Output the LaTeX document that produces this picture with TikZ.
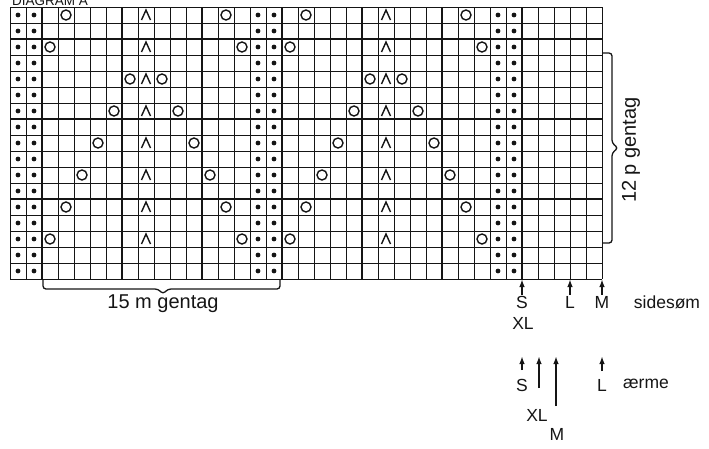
\documentclass[tikz,border=0pt]{standalone}
\usepackage{fontspec}
\setmainfont{Liberation Sans}
\usepackage{tikz}
\usetikzlibrary{arrows.meta}
\usepackage{xcolor}
\definecolor{ink}{HTML}{151515}

\begin{document}
\begin{tikzpicture}[x=1pt, y=-1pt,
    gridline/.style={ink, line width=0.9pt},
    gridthick/.style={ink, line width=2pt},
    yarnover/.style={ink, line width=1.4pt},
    decrease/.style={ink, line width=1.4pt},
    txt/.style={font=\fontsize{17.5}{19}\selectfont, text=ink, inner sep=1pt},
    reptxt/.style={font=\fontsize{20}{22}\selectfont, text=ink, inner sep=1pt},
    sizearrow/.style={-{Latex[length=8pt, width=5.5pt]}, ink, line width=1.6pt},
    gentag/.style={ink, line width=1.3pt, rounded corners=3pt}]
    \useasboundingbox (0,0) rectangle (709,448);

    % Title, cut off by the top edge
    \node[anchor=base west, font=\fontsize{13.5}{15}\selectfont, text=ink, inner sep=0pt] (title) at (12,5) {DIAGRAM A};

    % Grid, thick line every 5 stitches / rows
    \foreach \i in {0,...,37}
        \draw[gridline] ({10+16*\i},7) -- ({10+16*\i},279);
    \foreach \j in {0,...,17}
        \draw[gridline] (10,{7+16*\j}) -- (602,{7+16*\j});
    \foreach \i in {2,7,...,32}
        \draw[gridthick] ({10+16*\i},7) -- ({10+16*\i},279);
    \foreach \j in {2,7,12}
        \draw[gridthick] (10,{7+16*\j}) -- (602,{7+16*\j});

    % Purl columns
    \foreach \c in {1,2,16,17,31,32}
        \foreach \r in {1,...,17}
            \fill[ink] ({2+16*\c},{16*\r-1}) circle[radius=2.4pt];

    % Lace: decrease in the middle, yarn overs moving out
    \foreach \r/\d in {1/5,3/6,5/1,7/2,9/3,11/4,13/5,15/6}
        \foreach \c in {9,24} {
            \draw[decrease] ({2+16*\c-4.5},{16*\r+4}) -- ({2+16*\c},{16*\r-6}) -- ({2+16*\c+4.5},{16*\r+4});
            \draw[yarnover] ({2+16*(\c-\d)},{16*\r-1}) circle[radius=5pt];
            \draw[yarnover] ({2+16*(\c+\d)},{16*\r-1}) circle[radius=5pt];
        }

    % Repeats
    \draw[gentag] (43,279) -- (43,289) -- (158,289) -- (163,294) -- (168,289) -- (280,289) -- (280,279);
    \node[reptxt] (rep15) at (163,304) {15 m gentag};
    \draw[gentag] (602,53) -- (612,53) -- (612,143) -- (618,148) -- (612,153) -- (612,243) -- (602,243);
    \node[reptxt, rotate=90] (rep12) at (631,150) {12 p gentag};

    % Sizes, side seam
    \node[txt] (sideS) at (522,302) {S};
    \node[txt] (sideL) at (570,302) {L};
    \node[txt] (sideM) at (602,302) {M};
    \node[txt] (sideXL) at (523,323) {XL};
    \node[txt] (sidesom) at (667,302) {sidesøm};
    \coordinate (sideStip) at (522,279);
    \coordinate (sideLtip) at (570,279);
    \coordinate (sideMtip) at (602,279);
    \draw[sizearrow] (sideS.north) -- (sideStip);
    \draw[sizearrow] (sideL.north) -- (sideLtip);
    \draw[sizearrow] (sideM.north) -- (sideMtip);

    % Sizes, sleeve
    \node[txt] (armS) at (522,385) {S};
    \node[txt] (armL) at (602,385) {L};
    \node[txt] (armXL) at (537,415) {XL};
    \node[txt] (armM) at (557,434) {M};
    \node[txt] (arme) at (646,384) {ærme};
    \coordinate (armStail) at (522,370);
    \coordinate (armStip) at (522,356);
    \coordinate (armXLtail) at (539,388);
    \coordinate (armXLtip) at (539,356);
    \coordinate (armMtail) at (556,406);
    \coordinate (armMtip) at (556,356);
    \coordinate (armLtail) at (602,371);
    \coordinate (armLtip) at (602,356);
    \draw[sizearrow] (armStail) -- (armStip);
    \draw[sizearrow] (armXLtail) -- (armXLtip);
    \draw[sizearrow] (armMtail) -- (armMtip);
    \draw[sizearrow] (armLtail) -- (armLtip);
\end{tikzpicture}
\end{document}
